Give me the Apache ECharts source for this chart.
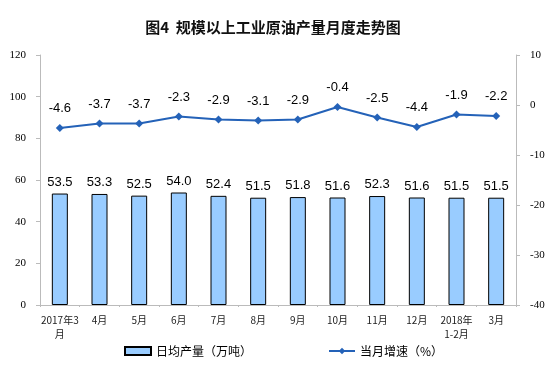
<!DOCTYPE html>
<html><head><meta charset="utf-8">
<script src="https://cdn.jsdelivr.net/npm/echarts@6/dist/echarts.min.js"></script>
<style>html,body{margin:0;padding:0;background:#fff}#c{width:558px;height:384px}</style>
</head><body><div id="c"></div>
<script>
const categories = ['2017年3\n月','4月','5月','6月','7月','8月','9月','10月','11月','12月','2018年\n1-2月','3月'];
const dailyOutput = [53.5,53.3,52.5,54.0,52.4,51.5,51.8,51.6,52.3,51.6,51.5,51.5];
const monthlyGrowth = [-4.6,-3.7,-3.7,-2.3,-2.9,-3.1,-2.9,-0.4,-2.5,-4.4,-1.9,-2.2];
const leftTicks = {min:0,max:120,interval:20};
const rightTicks = {min:-40,max:10,interval:10};

const chart = echarts.init(document.getElementById('c'));
const axisFont = {fontFamily:'Liberation Serif',fontSize:11,color:'#000'};
chart.setOption({
  animation:false,
  title:{text:'图4  规模以上工业原油产量月度走势图',left:268,top:15,textAlign:'center',
    textStyle:{fontFamily:'Noto Sans CJK SC',fontSize:15,fontWeight:'bold',color:'#111'}},
  grid:{left:40,right:42,top:55,bottom:79},
  legend:{bottom:22,left:119,itemGap:76,itemWidth:26,itemHeight:8,
    textStyle:{fontFamily:'Noto Sans CJK SC',fontSize:12,color:'#000'},
    data:[{name:'日均产量（万吨）',icon:'rect'},{name:'当月增速（%）'}]},
  xAxis:{type:'category',data:categories,
    axisLine:{lineStyle:{color:'#bbb'}},
    axisTick:{show:true,length:2,lineStyle:{color:'#bbb'}},
    axisLabel:{fontFamily:'Noto Sans CJK SC',fontSize:10,color:'#222',margin:8,lineHeight:14,interval:0}},
  yAxis:[
    {type:'value',...leftTicks,position:'left',
      axisLine:{show:true,lineStyle:{color:'#bbb'}},
      axisTick:{show:true,length:4,lineStyle:{color:'#bbb'}},
      splitLine:{show:false},
      axisLabel:{...axisFont,margin:14}},
    {type:'value',...rightTicks,position:'right',
      axisLine:{show:true,lineStyle:{color:'#bbb'}},
      axisTick:{show:true,length:4,lineStyle:{color:'#bbb'}},
      splitLine:{show:false},
      axisLabel:{...axisFont,margin:14}}
  ],
  series:[
    {name:'日均产量（万吨）',type:'bar',data:dailyOutput,barWidth:16,
      itemStyle:{color:'#99CCFF',borderColor:'#000',borderWidth:1},
      label:{show:true,position:'top',distance:5,formatter:p=>p.value.toFixed(1),
        fontFamily:'Liberation Sans',fontSize:13,color:'#000'}},
    {name:'当月增速（%）',type:'line',yAxisIndex:1,data:monthlyGrowth,
      symbol:'diamond',symbolSize:8,
      lineStyle:{color:'#2462B8',width:2},itemStyle:{color:'#2462B8'},
      label:{show:true,position:'top',distance:9,formatter:p=>p.value.toFixed(1),
        fontFamily:'Liberation Sans',fontSize:13,color:'#000'}}
  ]
});
</script></body></html>
